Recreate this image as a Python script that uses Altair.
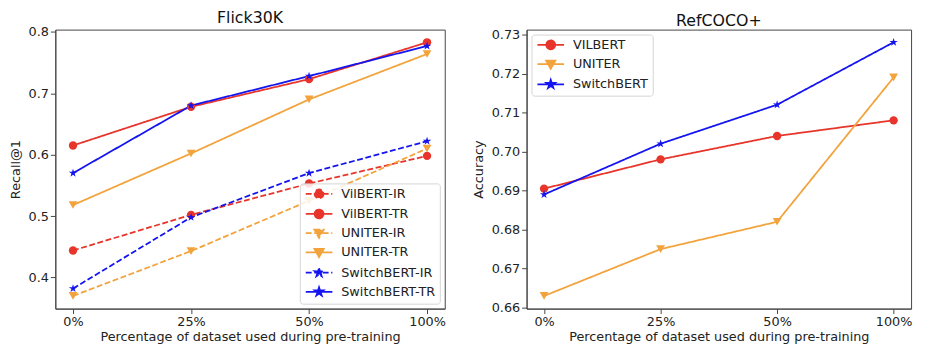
import altair as alt
import pandas as pd
import math

# ---------------- data ----------------
pct_labels = ["0%", "25%", "50%", "100%"]

flickr_series = ["VilBERT-IR", "VilBERT-TR", "UNITER-IR", "UNITER-TR",
                 "SwitchBERT-IR", "SwitchBERT-TR"]
vilbert_ir = [0.444, 0.502, 0.553, 0.598]
vilbert_tr = [0.615, 0.678, 0.723, 0.783]
uniter_ir = [0.370, 0.443, 0.525, 0.610]
uniter_tr = [0.518, 0.602, 0.690, 0.764]
switch_ir = [0.382, 0.498, 0.570, 0.622]
switch_tr = [0.570, 0.680, 0.728, 0.777]

ref_series = ["VILBERT", "UNITER", "SwitchBERT"]
ref_vilbert = [0.6905, 0.698, 0.704, 0.708]
ref_uniter = [0.663, 0.675, 0.682, 0.719]
ref_switch = [0.689, 0.702, 0.712, 0.728]

flickr_ticks = [0.4, 0.5, 0.6, 0.7, 0.8]
ref_ticks = [0.66, 0.67, 0.68, 0.69, 0.70, 0.71, 0.72, 0.73]

# ---------------- styles ----------------
RED = "#e8352b"
ORANGE = "#f2a33c"
BLUE = "#1414f0"
FONT = "DejaVu Sans"
FS = 13
DASH = [6, 2.6]
SOLID = [1, 0]


def star_path(cx, r, inner_ratio=0.38):
    pts = []
    for i in range(10):
        ang = math.radians(-90 + 36 * i)
        rr = r if i % 2 == 0 else r * inner_ratio
        pts.append((cx + rr * math.cos(ang), rr * math.sin(ang)))
    return "M" + "L".join(f"{x:.3f},{y:.3f}" for x, y in pts) + "Z"


STAR = star_path(0, 1.05)
LINE = "M-1,0L5,0"
LEG_CIRCLE = LINE + "M3,0A1,1,0,1,1,1,0A1,1,0,1,1,3,0Z"
LEG_TRI = LINE + "M0.95,-0.8L3.05,-0.8L2,1.05Z"
LEG_STAR = LINE + star_path(2, 1.0)


def long_df(names, arrays):
    rows = []
    for n, arr in zip(names, arrays):
        for p, v in zip(pct_labels, arr):
            rows.append({"pct": p, "value": v, "series": n})
    return pd.DataFrame(rows)


def panel(df, names, colors, dashes, marker_groups, leg_shapes, ydomain, yticks,
          yfmt, ytitle, title, legend_pos, width, height):
    x = alt.X("pct:N", sort=pct_labels,
              scale=alt.Scale(type="point", padding=0.15),
              axis=alt.Axis(title="Percentage of dataset used during pre-training",
                            labelAngle=0, grid=False))
    y = alt.Y("value:Q", scale=alt.Scale(domain=ydomain, nice=False, zero=False),
              axis=alt.Axis(title=ytitle, values=yticks, format=yfmt, grid=False,
                            titlePadding=6))
    legend = alt.Legend(
        title=None, symbolSize=81, symbolStrokeWidth=1.8, labelOffset=25,
        symbolOpacity=1, labelFontSize=FS, labelFont=FONT, labelColor="#222",
        padding=4, rowPadding=3.5,
        strokeColor="#d4d4d4", fillColor="rgba(255,255,255,0.85)",
        cornerRadius=3, **legend_pos,
    )

    def sc(rng):
        return alt.Scale(domain=names, range=rng)

    carrier = alt.Chart(df).mark_point(filled=True, opacity=0, size=81).encode(
        x=x, y=y,
        fill=alt.Fill("series:N", scale=sc(colors), legend=legend),
        stroke=alt.Stroke("series:N", scale=sc(colors), legend=legend),
        strokeDash=alt.StrokeDash("series:N", scale=sc(dashes), legend=legend),
        shape=alt.Shape("series:N", scale=sc(leg_shapes), legend=legend),
    )
    lines = alt.Chart(df).mark_line(strokeWidth=1.8).encode(
        x=x, y=y,
        stroke=alt.Stroke("series:N", scale=sc(colors), legend=legend),
        strokeDash=alt.StrokeDash("series:N", scale=sc(dashes), legend=legend),
        detail="series:N",
    )
    point_layers = []
    for shape, size, members in marker_groups:
        point_layers.append(
            alt.Chart(df).transform_filter(
                alt.FieldOneOfPredicate(field="series", oneOf=members)
            ).mark_point(filled=True, opacity=1, size=size, shape=shape).encode(
                x=x, y=y,
                fill=alt.Fill("series:N", scale=sc(colors), legend=legend),
            )
        )
    return alt.layer(carrier, lines, *point_layers).properties(
        width=width, height=height,
        title=alt.TitleParams(title, fontSize=16, fontWeight="normal", font=FONT,
                              color="#111", offset=0),
    )


flickr_df = long_df(flickr_series, [vilbert_ir, vilbert_tr, uniter_ir, uniter_tr,
                                    switch_ir, switch_tr])
ref_df = long_df(ref_series, [ref_vilbert, ref_uniter, ref_switch])

PLOT_H = 283

left = panel(
    flickr_df, flickr_series,
    [RED, RED, ORANGE, ORANGE, BLUE, BLUE],
    [DASH, SOLID, DASH, SOLID, DASH, SOLID],
    [("circle", 72, ["VilBERT-IR", "VilBERT-TR"]),
     ("triangle-down", 80, ["UNITER-IR", "UNITER-TR"]),
     (STAR, 72, ["SwitchBERT-IR", "SwitchBERT-TR"])],
    [LEG_CIRCLE, LEG_CIRCLE, LEG_TRI, LEG_TRI, LEG_STAR, LEG_STAR],
    [0.3493, 0.8037], flickr_ticks, ".1f", "Recall@1", "Flick30K",
    {"orient": "bottom-right", "offset": 5}, 395, PLOT_H,
)
right = panel(
    ref_df, ref_series,
    [RED, ORANGE, BLUE],
    [SOLID, SOLID, SOLID],
    [("circle", 72, ["VILBERT"]),
     ("triangle-down", 80, ["UNITER"]),
     (STAR, 72, ["SwitchBERT"])],
    [LEG_CIRCLE, LEG_TRI, LEG_STAR],
    [0.65975, 0.73125], ref_ticks, ".2f", "Accuracy", "RefCOCO+",
    {"orient": "top-left", "offset": 5}, 390, PLOT_H,
)

chart = alt.hconcat(left, right, spacing=21).resolve_scale(
    strokeDash="independent", shape="independent",
    fill="independent", stroke="independent",
).properties(
    padding={"left": 0, "top": -1.5, "right": 0, "bottom": 0}
).configure(
    font=FONT,
).configure_view(
    stroke="#444", strokeWidth=1,
).configure_axis(
    labelFont=FONT, titleFont=FONT, labelFontSize=FS, titleFontSize=FS,
    labelColor="#222", titleColor="#222", titleFontWeight="normal",
    domainColor="#444", tickColor="#444", tickSize=5, labelPadding=2,
).configure_axisX(
    titlePadding=2,
)

chart.save("out.html", embed_options={"renderer": "svg", "actions": False})
